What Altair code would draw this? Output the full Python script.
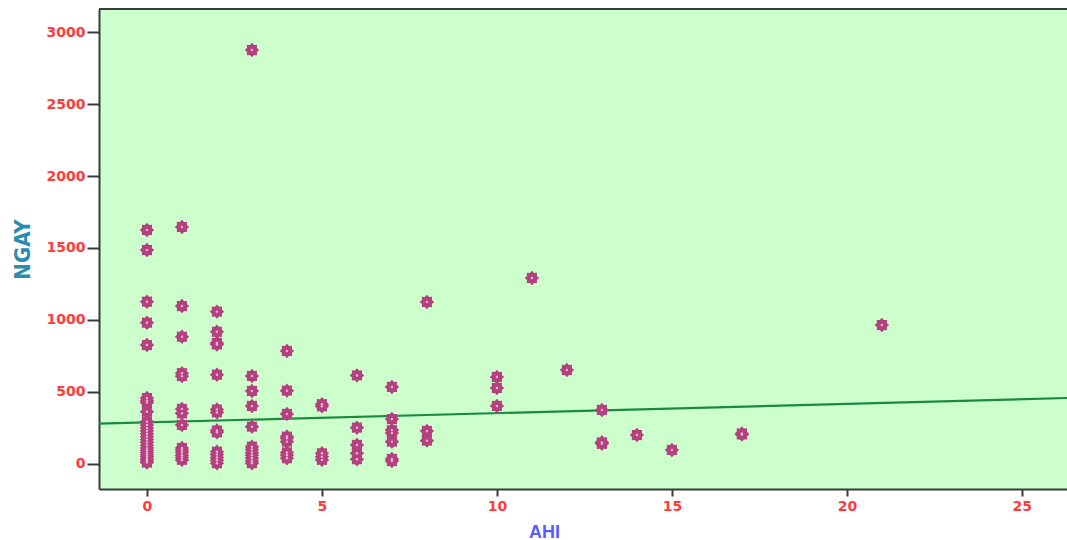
import math
import altair as alt
import pandas as pd

# AHI (x) and NGAY (y) observations, listed column by column
ahi_0 = [0] * 26
ngay_0 = [1625, 1486, 1127, 981, 826, 458, 440, 426, 363, 294, 270, 250, 230,
          210, 190, 170, 150, 130, 110, 95, 80, 65, 50, 35, 20, 10]
ahi_1 = [1] * 14
ngay_1 = [1646, 1097, 884, 630, 610, 382, 352, 271, 111, 95, 80, 60, 45, 28]
ahi_2 = [2] * 14
ngay_2 = [1058, 918, 840, 830, 620, 378, 358, 232, 220, 85, 65, 45, 25, 5]
ahi_3 = [3] * 12
ngay_3 = [2875, 611, 507, 403, 259, 120, 100, 80, 60, 40, 20, 5]
ahi_4 = [4] * 9
ngay_4 = [785, 509, 347, 190, 178, 155, 80, 60, 40]
ahi_5 = [5] * 5
ngay_5 = [415, 400, 74, 50, 28]
ahi_6 = [6] * 5
ngay_6 = [615, 252, 132, 74, 33]
ahi_7 = [7] * 7
ngay_7 = [535, 312, 235, 215, 155, 35, 20]
ahi_rest = [8, 8, 8, 10, 10, 10, 11, 12, 13, 13, 13, 14, 15, 17, 17, 21]
ngay_rest = [1125, 229, 162, 604, 528, 403, 1292, 653, 375, 150, 140, 201, 97,
             212, 205, 965]

# fitted linear trend, read at the two ends of the x range
fit_ahi = [-1.37, 26.29]
fit_ngay = [280, 458]

x_ticks = [0, 5, 10, 15, 20, 25]
y_ticks = [0, 500, 1000, 1500, 2000, 2500, 3000]

ahi = ahi_0 + ahi_1 + ahi_2 + ahi_3 + ahi_4 + ahi_5 + ahi_6 + ahi_7 + ahi_rest
ngay = (ngay_0 + ngay_1 + ngay_2 + ngay_3 + ngay_4 + ngay_5 + ngay_6 + ngay_7
        + ngay_rest)
points = pd.DataFrame({"AHI": ahi, "NGAY": ngay})
fit = pd.DataFrame({"AHI": fit_ahi, "NGAY": fit_ngay})

W, H = 968, 480
LABEL_FONT = "DejaVu Sans"
LABEL_RED = "#ff3b3b"
AXIS_DARK = "#3a3a3a"
NARROW = "Liberation Sans Narrow, DejaVu Sans Condensed, Arial Narrow, Roboto, sans-serif"

# eight-pointed rosette used as the point symbol
pts = []
for i in range(16):
    a = math.pi * i / 8
    r = 1.0 if i % 2 == 0 else 0.74
    pts.append(f"{r * math.cos(a):.3f},{r * math.sin(a):.3f}")
rosette = "M" + " L".join(pts) + " Z"

x_scale = alt.Scale(domain=[fit_ahi[0], fit_ahi[1]], nice=False, zero=False)
y_scale = alt.Scale(domain=[-174, 3160], nice=False, zero=False)

x_enc = alt.X(
    "AHI:Q",
    scale=x_scale,
    axis=alt.Axis(
        title="AHI",
        values=x_ticks,
        format="d",
        grid=False,
        domainColor=AXIS_DARK,
        domainWidth=2,
        tickColor=AXIS_DARK,
        tickWidth=2,
        tickSize=7,
        labelPadding=3,
        labelFont=LABEL_FONT,
        labelFontWeight="bold",
        labelFontSize=14,
        labelColor=LABEL_RED,
        titleFont="Liberation Sans",
        titleFontWeight="bold",
        titleFontSize=18,
        titleColor="#5a5aff",
        titleX=445,
        titleY=48,
        titleAlign="center",
        titleBaseline="alphabetic",
    ),
)
y_enc = alt.Y(
    "NGAY:Q",
    scale=y_scale,
    axis=alt.Axis(
        title="NGAY",
        values=y_ticks,
        format="d",
        grid=False,
        domainColor=AXIS_DARK,
        domainWidth=2,
        tickColor=AXIS_DARK,
        tickWidth=2,
        tickSize=12,
        labelPadding=2,
        labelFont=LABEL_FONT,
        labelFontWeight="bold",
        labelFontSize=14,
        labelColor=LABEL_RED,
        titleFont=NARROW,
        titleFontWeight="bold",
        titleFontSize=22,
        titleColor="#2a8db0",
        titleX=-77,
        titleY=240,
        titleAlign="center",
        titleBaseline="middle",
    ),
)

frame_top = alt.Chart(fit).mark_rule(color=AXIS_DARK, strokeWidth=2).encode(
    x=alt.value(0), x2=alt.value(W), y=alt.value(0)
)

trend = alt.Chart(fit).mark_line(color="#1b8a3e", strokeWidth=2.2, clip=True).encode(
    x=x_enc, y=y_enc
)

dots = alt.Chart(points).mark_point(
    shape=rosette, filled=True, size=210, color="#b5407f", opacity=1
).encode(x=x_enc, y=y_enc)

centres = alt.Chart(points).mark_point(
    shape="circle", filled=True, size=6, color="#e9b3d2", opacity=1
).encode(x=x_enc, y=y_enc)

chart = (
    alt.layer(trend, dots, centres, frame_top)
    .properties(
        width=W,
        height=H,
        autosize="none",
        padding={"left": 99, "top": 9, "right": 0, "bottom": 51},
        background="white",
    )
    .configure_view(fill="#ccffcc", stroke="transparent")
)

chart.save("out.html", embed_options={"renderer": "svg", "actions": False})
